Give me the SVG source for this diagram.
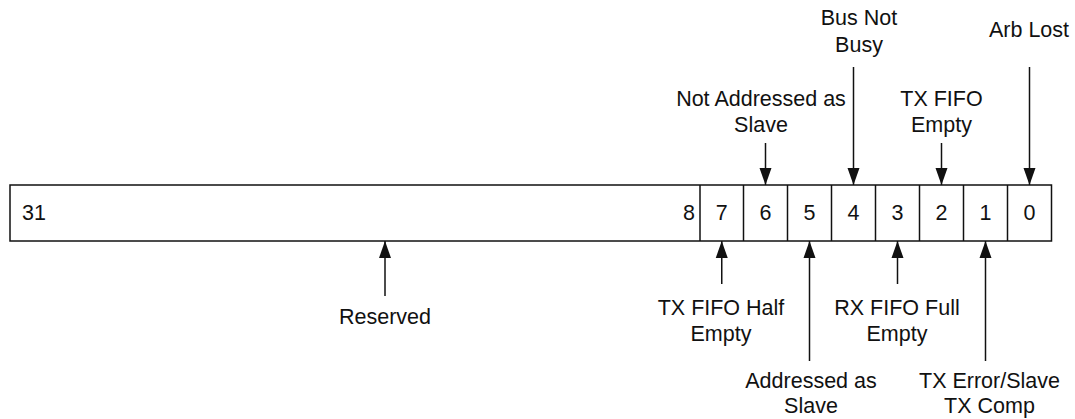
<svg xmlns="http://www.w3.org/2000/svg" width="1075" height="419" viewBox="0 0 1075 419">
<style>
text{font-family:"Liberation Sans",Arial,sans-serif;font-size:21.5px;fill:#111;text-anchor:middle}
.box{fill:#fff;stroke:#111;stroke-width:1.5}
.cn line{stroke:#111;stroke-width:1.5}
</style>
<defs>
<marker id="ah" viewBox="0 0 17 12" refX="17" refY="6" markerWidth="17" markerHeight="12" markerUnits="userSpaceOnUse" orient="auto" overflow="visible">
<path d="M0,0 L17,6 L0,12 z" fill="#111"/>
</marker>
</defs>
<rect width="1075" height="419" fill="#fff"/>
<g id="register">
<rect class="box" x="10" y="185" width="1041.5" height="56"/>
<line class="box" x1="700" y1="185" x2="700" y2="241"/>
<line class="box" x1="743.5" y1="185" x2="743.5" y2="241"/>
<line class="box" x1="787.5" y1="185" x2="787.5" y2="241"/>
<line class="box" x1="831.5" y1="185" x2="831.5" y2="241"/>
<line class="box" x1="875.5" y1="185" x2="875.5" y2="241"/>
<line class="box" x1="919.5" y1="185" x2="919.5" y2="241"/>
<line class="box" x1="963.5" y1="185" x2="963.5" y2="241"/>
<line class="box" x1="1007.5" y1="185" x2="1007.5" y2="241"/>
<text x="22" y="220" style="text-anchor:start">31</text>
<text x="695" y="220" style="text-anchor:end">8</text>
<text x="721.75" y="220">7</text>
<text x="765.5" y="220">6</text>
<text x="809.5" y="220">5</text>
<text x="853.5" y="220">4</text>
<text x="897.5" y="220">3</text>
<text x="941.5" y="220">2</text>
<text x="985.5" y="220">1</text>
<text x="1029.5" y="220">0</text>
</g>
<g id="label-bus-not-busy"><text x="859" y="25">Bus Not</text><text x="859" y="52">Busy</text></g>
<g id="label-arb-lost"><text x="1029" y="37">Arb Lost</text></g>
<g id="label-not-addressed"><text x="761" y="106">Not Addressed as</text><text x="761" y="132">Slave</text></g>
<g id="label-tx-fifo-empty"><text x="941.5" y="106">TX FIFO</text><text x="941.5" y="132">Empty</text></g>
<g id="label-reserved"><text x="385" y="324">Reserved</text></g>
<g id="label-tx-half"><text x="721" y="315">TX FIFO Half</text><text x="721" y="341">Empty</text></g>
<g id="label-rx-full"><text x="897" y="315">RX FIFO Full</text><text x="897" y="341">Empty</text></g>
<g id="label-addressed"><text x="811" y="388">Addressed as</text><text x="811" y="413">Slave</text></g>
<g id="label-tx-error"><text x="989.5" y="388">TX Error/Slave</text><text x="989.5" y="413">TX Comp</text></g>
<g id="connectors" class="cn">
<line x1="853.5" y1="67" x2="853.5" y2="185" marker-end="url(#ah)"/>
<line x1="1029.5" y1="67" x2="1029.5" y2="185" marker-end="url(#ah)"/>
<line x1="765.5" y1="143" x2="765.5" y2="185" marker-end="url(#ah)"/>
<line x1="941.5" y1="143" x2="941.5" y2="185" marker-end="url(#ah)"/>
<line x1="385" y1="296" x2="385" y2="241" marker-end="url(#ah)"/>
<line x1="721.75" y1="284" x2="721.75" y2="241" marker-end="url(#ah)"/>
<line x1="809.5" y1="361" x2="809.5" y2="241" marker-end="url(#ah)"/>
<line x1="897.5" y1="284" x2="897.5" y2="241" marker-end="url(#ah)"/>
<line x1="985.5" y1="361" x2="985.5" y2="241" marker-end="url(#ah)"/>
</g>
</svg>
